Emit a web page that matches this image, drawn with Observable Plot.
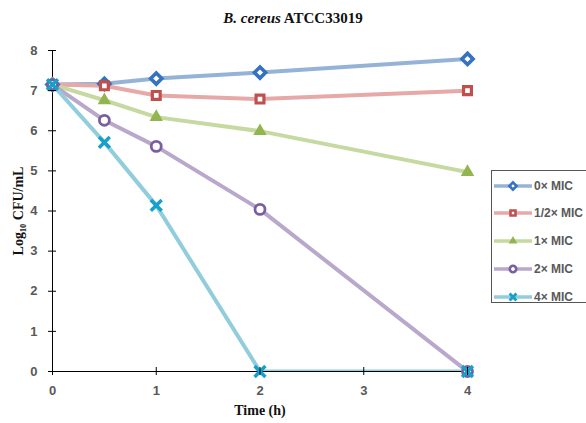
<!DOCTYPE html>
<html><head><meta charset="utf-8">
<script src="https://cdn.jsdelivr.net/npm/d3@7"></script>
<script src="https://cdn.jsdelivr.net/npm/@observablehq/plot@0.6"></script>
<style>
body{margin:0;background:#fff;}
#wrap{position:relative;width:586px;height:423px;overflow:hidden;background:#fff;}
#title{height:30px;line-height:36px;text-align:center;font-family:"Liberation Serif",serif;font-weight:bold;font-size:15px;color:#111;}
#legend{position:absolute;left:491px;top:170px;width:110px;height:133px;border:1px solid #555;box-sizing:border-box;background:#fff;}
.item{position:absolute;left:0;height:20px;display:flex;align-items:center;font-family:"Liberation Sans",sans-serif;font-weight:bold;font-size:12px;color:#595959;white-space:nowrap;}
.item svg{margin-right:1px;}
</style>
</head><body>
<div id="wrap">
  <div id="title"><i>B. cereus</i> ATCC33019</div>
  <div id="chart"></div>
  <div id="legend"></div>
</div>
<script>
const times = [0, 0.5, 1, 2, 4];
const seriesNames = ["0× MIC", "1/2× MIC", "1× MIC", "2× MIC", "4× MIC"];
const mic0 = [7.15, 7.17, 7.30, 7.45, 7.79];
const micHalf = [7.15, 7.12, 6.88, 6.79, 7.00];
const mic1 = [7.15, 6.76, 6.34, 5.99, 4.97];
const mic2 = [7.15, 6.26, 5.61, 4.04, 0.00];
const mic4 = [7.15, 5.71, 4.14, 0.00, 0.00];
const xTicks = [0, 1, 2, 3, 4];
const yTicks = [0, 1, 2, 3, 4, 5, 6, 7, 8];

const seriesValues = [mic0, micHalf, mic1, mic2, mic4];
const styles = [
  {line: "#95b3d7", mark: "#3572c0", symbol: "diamond2", fill: "white", sw: 3.6},
  {line: "#e6a9a8", mark: "#c0504d", symbol: "square2", fill: "white", sw: 3.2},
  {line: "#c6d9a0", mark: "#92b550", symbol: "triangle", fill: null, sw: 1},
  {line: "#b9a7cc", mark: "#7a5fa0", symbol: "circle", fill: "white", sw: 2.8},
  {line: "#92cddc", mark: "#17a0c9", symbol: "times", fill: null, sw: 3.4}
];

const tables = seriesValues.map((vals, i) => times.map((t, j) => ({t, v: vals[j], s: seriesNames[i]})));

const marks = [];
tables.forEach((tbl, i) => {
  const st = styles[i];
  marks.push(Plot.line(tbl, {x: "t", y: "v", stroke: st.line, strokeWidth: 4, clip: true}));
});
marks.push(Plot.ruleX([0], {stroke: "#000", strokeWidth: 1}));
marks.push(Plot.ruleY([0], {stroke: "#000", strokeWidth: 1}));
tables.forEach((tbl, i) => {
  const st = styles[i];
  if (st.symbol === "triangle") {
    marks.push(Plot.dot(tbl, {x: "t", y: "v", symbol: st.symbol, r: 5, fill: st.mark}));
  } else if (st.symbol === "times") {
    marks.push(Plot.dot(tbl, {x: "t", y: "v", symbol: st.symbol, r: 5, stroke: st.mark, strokeWidth: st.sw}));
  } else {
    marks.push(Plot.dot(tbl, {x: "t", y: "v", symbol: st.symbol, r: 5, stroke: st.mark, fill: st.fill, strokeWidth: st.sw}));
  }
});

const tickFont = {fontFamily: "Liberation Sans, sans-serif", fontWeight: "bold", fontSize: 13, fill: "#595959"};

marks.push(Plot.axisY(yTicks, {anchor: "left", tickSize: 8, dx: 4, tickPadding: 11, stroke: "#000", label: null, ...tickFont}));
marks.push(Plot.axisX(xTicks, {anchor: "bottom", tickSize: 8, dy: -4, tickPadding: 10, stroke: "#000", label: null, tickFormat: d => d, ...tickFont}));
marks.push(Plot.text(["Log₁₀ CFU/mL"], {frameAnchor: "left", dx: -34, rotate: -90, lineAnchor: "middle", textAnchor: "middle", fontFamily: "Liberation Serif, serif", fontWeight: "bold", fontSize: 14, fill: "#111"}));
marks.push(Plot.text(["Time (h)"], {frameAnchor: "bottom", dy: 39, lineAnchor: "middle", textAnchor: "middle", fontFamily: "Liberation Serif, serif", fontWeight: "bold", fontSize: 14, fill: "#111"}));

const chart = Plot.plot({
  width: 586,
  height: 393,
  marginLeft: 52,
  marginRight: 119,
  marginTop: 20,
  marginBottom: 52,
  x: {domain: [0, 4]},
  y: {domain: [0, 8]},
  style: {background: "transparent", overflow: "visible"},
  marks
});
document.getElementById("chart").appendChild(chart);

// legend
const legend = document.getElementById("legend");
const rowY = [15, 42, 70, 98, 126];
seriesNames.forEach((name, i) => {
  const st = styles[i];
  const div = document.createElement("div");
  div.className = "item";
  div.style.top = (rowY[i] - 10) + "px";
  const sym = {diamond2: d3.symbolDiamond2, square2: d3.symbolSquare2, triangle: d3.symbolTriangle, circle: d3.symbolCircle, times: d3.symbolTimes}[st.symbol];
  const path = d3.symbol(sym, Math.PI * 3.2 * 3.2)();
  let attrs;
  if (st.symbol === "triangle") attrs = `fill="${st.mark}"`;
  else if (st.symbol === "times") attrs = `fill="none" stroke="${st.mark}" stroke-width="2.8"`;
  else attrs = `fill="white" stroke="${st.mark}" stroke-width="2.6"`;
  div.innerHTML = `<svg width="41" height="20"><line x1="2" x2="40" y1="10" y2="10" stroke="${st.line}" stroke-width="3.5"/><path transform="translate(21,10)" d="${path}" ${attrs}/></svg><span>${name}</span>`;
  legend.appendChild(div);
});
</script>
</body></html>
